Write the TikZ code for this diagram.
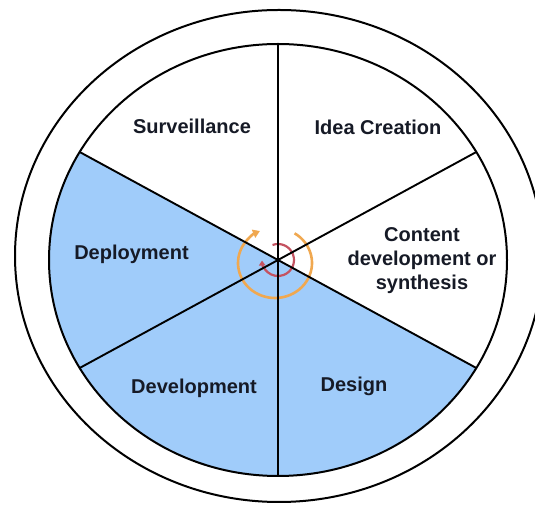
\documentclass[tikz,border=0pt]{standalone}
\usepackage{fontspec}
\setmainfont{Liberation Sans}
\usepackage{tikz}
\usetikzlibrary{arrows.meta}

\definecolor{phaseblue}{RGB}{160,204,250}
\definecolor{phaseink}{RGB}{22,26,38}
\definecolor{loopOrange}{RGB}{240,168,80}
\definecolor{loopRed}{RGB}{196,82,96}

\tikzset{
	phase/.style={font=\fontsize{20}{24}\selectfont\bfseries, text=phaseink,
		align=center, anchor=base, inner sep=0pt},
	rim/.style={line width=2pt, black},
	spoke/.style={line width=1.9pt, black},
	loop/.style={line width=2.6pt, -{Triangle[length=7pt, width=8.5pt]}},
}

\begin{document}
\begin{tikzpicture}[x=1pt, y=1pt]
			\useasboundingbox (0, 0) rectangle (535, 508);
			\coordinate (hub) at (278, 248);
			\coordinate (rimc) at (279, 252);
			\coordinate (loopc) at (275, 245);

			% three shaded phases on the lower left half
			\fill [phaseblue] (hub) -- ++(150:229pt and 216pt) arc [start angle=150,
			end angle=330, x radius=229pt, y radius=216pt] -- cycle;

			% turning arrows round the hub
			\draw [loop, loopOrange] ([shift={(58:37pt and 35pt)}]loopc) arc
			[start angle=58, end angle=-246, x radius=37pt, y radius=35pt];
			\draw [loop, loopRed, line width=2.2pt,
			-{Triangle[length=5pt, width=6.5pt]}] ([shift={(110:16pt and 16pt)}]hub)
			arc [start angle=110, end angle=-178, x radius=16pt, y radius=16pt];

			\foreach \a in {30, 90, ..., 330}
				\draw [spoke] (hub) -- ++(\a:229pt and 216pt);

			\draw [rim] (hub) ellipse [x radius=229pt, y radius=216pt];
			\draw [rim] (rimc) ellipse [x radius=264pt, y radius=246pt];

			\node [phase] (surv) at (192, 374) {Surveillance};
			\node [phase] (idea) at (378, 373.5) {Idea Creation};
			\node [phase, anchor=center] (content) at (422, 247)
			{Content\\development or\\synthesis};
			\node [phase] (deploy) at (131.5, 248) {Deployment};
			\node [phase] (devel) at (194, 114) {Development};
			\node [phase] (design) at (354, 116) {Design};
		\end{tikzpicture}
\end{document}
